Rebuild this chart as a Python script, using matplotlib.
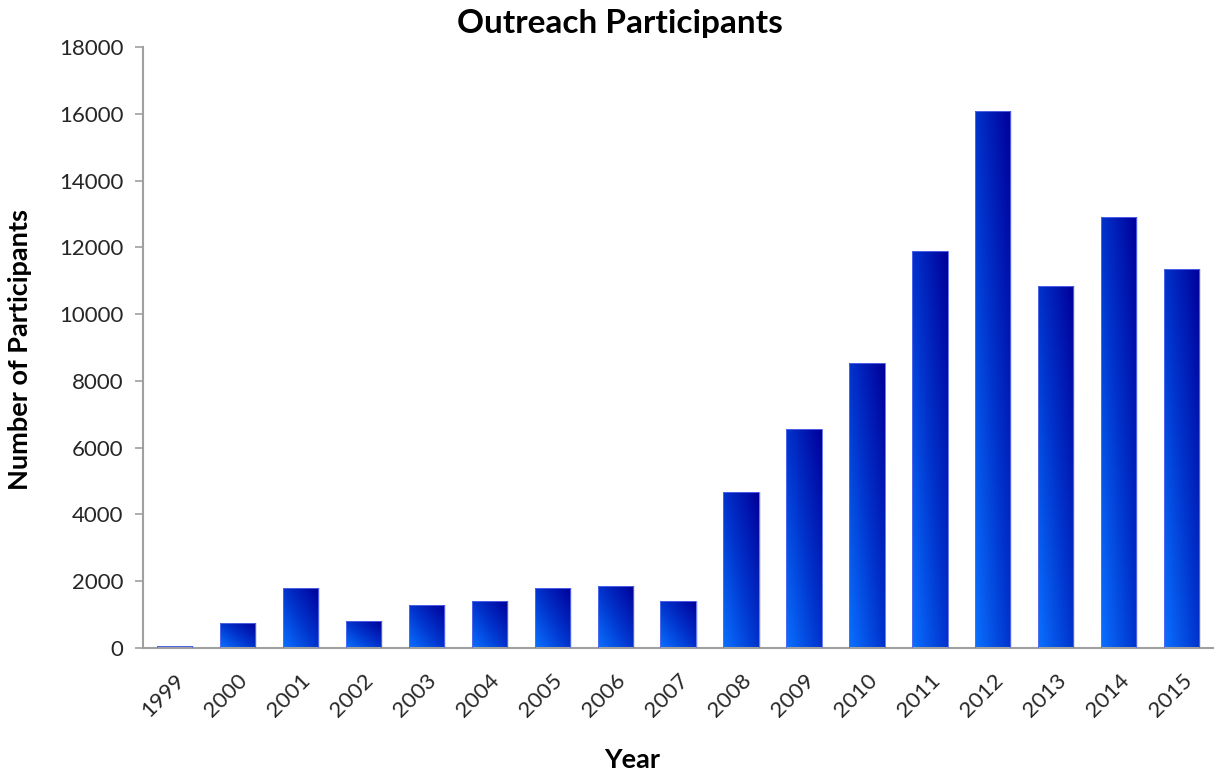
import matplotlib
matplotlib.use("Agg")
import matplotlib.pyplot as plt
import numpy as np
from matplotlib.colors import LinearSegmentedColormap
from matplotlib.patches import Rectangle

years = ["1999", "2000", "2001", "2002", "2003", "2004", "2005", "2006", "2007",
         "2008", "2009", "2010", "2011", "2012", "2013", "2014", "2015"]
participants = [70, 760, 1790, 800, 1300, 1420, 1790, 1870, 1410,
                4670, 6560, 8530, 11890, 16080, 10840, 12900, 11360]
yticks = [0, 2000, 4000, 6000, 8000, 10000, 12000, 14000, 16000, 18000]

plt.rcParams['font.family'] = ['Lato', 'DejaVu Sans']

fig = plt.figure(figsize=(12.14, 7.74), dpi=100)
ax = fig.add_axes([0.1178, 0.1628, 0.8815, 0.7765])

cmap = LinearSegmentedColormap.from_list("g", ["#0a70ff", "#0033cc", "#000099"])
x = np.arange(len(years))
width = 0.56
bars = ax.bar(x, participants, width=width, color="none", edgecolor="#5a6cf0",
              linewidth=0.6, zorder=3)

uu, vv = np.meshgrid(np.linspace(0, 1, 60), np.linspace(0, 1, 200))
grad = (uu + vv) / 2.0
for b in bars:
    x0, y0 = b.get_x(), b.get_y()
    w, h = b.get_width(), b.get_height()
    ax.add_patch(Rectangle((x0 + 0.03, y0), w, h, facecolor="#000000", alpha=0.12,
                           edgecolor="none", zorder=1))
    im = ax.imshow(grad, cmap=cmap, origin="lower", extent=[x0, x0 + w, y0, y0 + h],
                   aspect="auto", zorder=2, interpolation="bilinear")
    im.set_clip_path(b)

ax.set_xlim(-0.5, len(years) - 0.5)
ax.set_ylim(0, 18000)
ax.set_yticks(yticks)
ax.set_yticklabels([str(v) for v in yticks], fontsize=16, color="#262626")
ax.set_xticks(x)
ax.set_xticklabels(years, rotation=45, ha="right", va="top", rotation_mode="anchor",
                   fontsize=16, color="#262626")
ax.tick_params(axis="x", length=0, pad=16)
ax.tick_params(axis="y", length=6, color="#a0a0a0", width=1.2, pad=8, direction="out")

for s in ["top", "right"]:
    ax.spines[s].set_visible(False)
for s in ["left", "bottom"]:
    ax.spines[s].set_color("#a0a0a0")
    ax.spines[s].set_linewidth(1.5)

fig.text(620 / 1214, 1 - 24 / 774, "Outreach Participants", fontsize=24,
         fontweight="bold", ha="center", va="center")
fig.text(632 / 1214, 1 - 760 / 774, "Year", fontsize=19.5,
         fontweight="bold", ha="center", va="center")
fig.text(20 / 1214, 1 - 350 / 774, "Number of Participants", fontsize=19.5,
         fontweight="bold", ha="center", va="center", rotation=90)

fig.savefig("out.png", dpi=100)
